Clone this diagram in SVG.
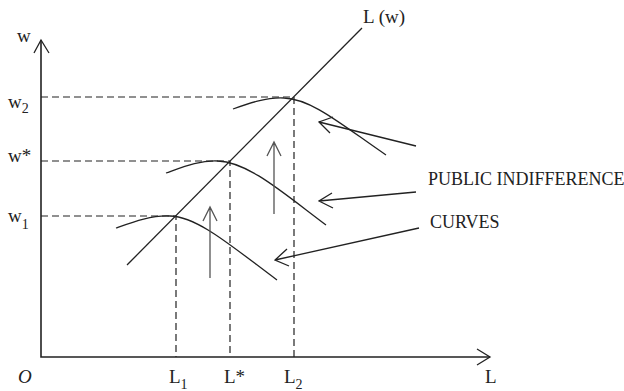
<svg xmlns="http://www.w3.org/2000/svg" width="624" height="391" viewBox="0 0 624 391">
<style>
.ax{stroke:#222;stroke-width:1.6;fill:none}
.ln{stroke:#222;stroke-width:1.3;fill:none}
.ds{stroke:#222;stroke-width:1.2;fill:none;stroke-dasharray:7,4}
.gr{stroke:#555;stroke-width:1.3;fill:none}
text{font-family:"Liberation Serif","Times New Roman",serif;fill:#222}
.lb{font-size:19px}
.sb{font-size:14px}
.cap{font-size:18px}
</style>
<rect width="624" height="391" fill="#fff"/>
<g id="axes">
<path class="ax" d="M41,40 V357 H490"/>
<path class="ln" d="M34,53 L41,40 L49,53"/>
<path class="ln" d="M477,349 L490,357 L477,365"/>
<text class="lb" x="17" y="42">w</text>
<text class="lb" x="18" y="383" font-style="italic">O</text>
<text class="lb" x="485" y="383">L</text>
</g>
<g id="labels">
<text class="lb" x="8" y="108">w<tspan class="sb" dy="5">2</tspan></text>
<text class="lb" x="8" y="162">w*</text>
<text class="lb" x="8" y="222">w<tspan class="sb" dy="7">1</tspan></text>
<text class="lb" x="169" y="383">L<tspan class="sb" dy="6">1</tspan></text>
<text class="lb" x="224" y="383">L*</text>
<text class="lb" x="284" y="383">L<tspan class="sb" dy="6">2</tspan></text>
</g>
<g id="dashes">
<path class="ds" d="M41,97 H294 V357"/>
<path class="ds" d="M41,161 H230 V357"/>
<path class="ds" d="M41,216 H176 V357"/>
</g>
<g id="Lw">
<path class="ln" d="M127,265 L362,28"/>
<text class="lb" x="363" y="23">L (w)</text>
</g>
<g id="curves">
<path class="ln" d="M116,228 C133,222 152,215 170,216 C198,217 230,245 277,280"/>
<path class="ln" d="M166,173 C183,167 200,160 218,161 C248,162 282,192 326,225"/>
<path class="ln" d="M233,109 C250,103 267,97 284,98 C312,99 342,125 386,155"/>
</g>
<g id="connectors">
<path class="gr" d="M210,278 V207 M203,221 L210,207 L217,221"/>
<path class="gr" d="M274,214 V142 M267,156 L274,142 L281,156"/>
<path class="ln" d="M416,146 L319,122 M333,117 L319,122 L330,133"/>
<path class="ln" d="M416,192 L319,201 M332,193 L319,201 L333,208"/>
<path class="ln" d="M419,228 L275,260 M287,249 L275,260 L289,266"/>
</g>
<g id="caption">
<text class="cap" x="428" y="185">PUBLIC INDIFFERENCE</text>
<text class="cap" x="430" y="228">CURVES</text>
</g>
</svg>
